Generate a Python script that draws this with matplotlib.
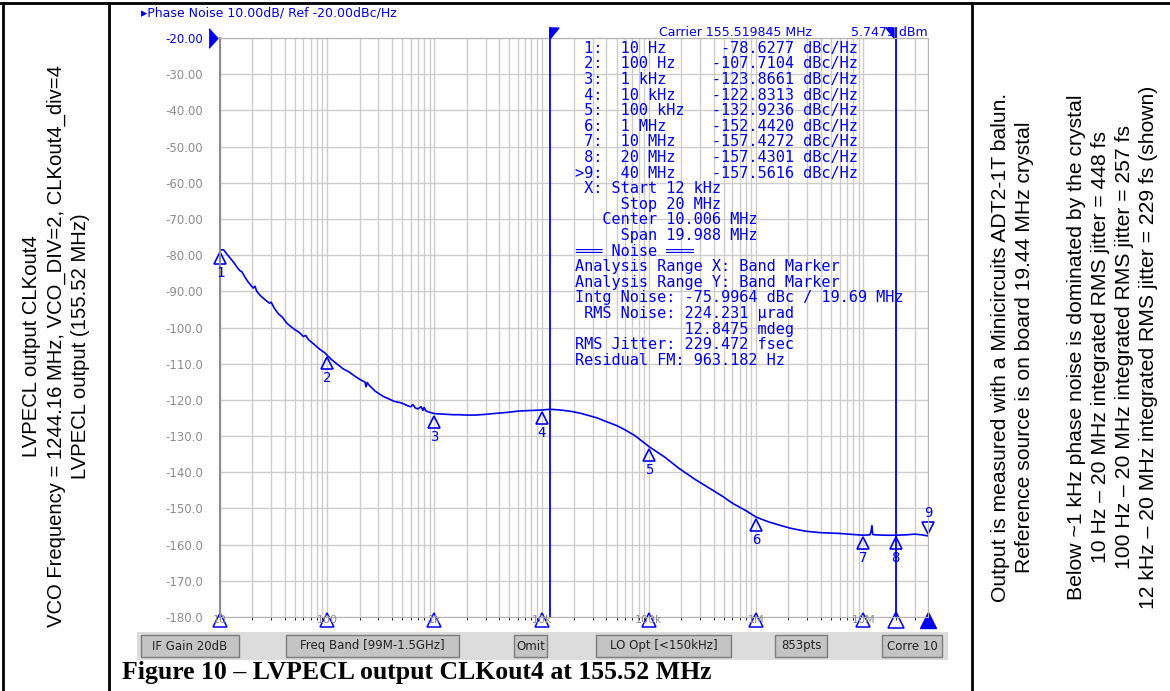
import matplotlib
matplotlib.use('Agg')
import numpy as np
import matplotlib.pyplot as plt
import matplotlib.transforms as mtransforms
from matplotlib.lines import Line2D
from matplotlib.patches import Rectangle, Polygon
from matplotlib.ticker import LogLocator, NullFormatter

# trace
freq_hz = [10, 10.8, 11.5, 12.5, 13.5, 14.3, 15.2, 16, 17, 18.5, 20.4, 21.2, 22, 24, 26.5, 29,
           30, 32, 35, 38, 42, 46, 50, 55, 60, 63, 67, 75, 85, 95, 100, 110, 120, 130, 140,
           160, 180, 200, 225, 230, 236, 245, 280, 331, 380, 420, 470, 507, 560, 600, 630,
           660, 700, 750, 780, 800, 830, 870, 920, 1000, 1150, 1300, 1500, 1700, 2000, 2400,
           3000, 3500, 4200, 5000, 6000, 7000, 8500, 10000, 12000, 15000, 19000, 23000,
           28000, 33000, 40000, 50000, 60000, 75000, 100000, 140000, 190000, 270000, 390000,
           500000, 596000, 800000, 1e6, 1.3e6, 1.6e6, 2.1e6, 2.9e6, 4e6, 5.9e6, 8e6, 1e7,
           1.15e7, 1.18e7, 1.2e7, 1.22e7, 1.3e7, 1.6e7, 2e7, 2.5e7, 3e7, 3.5e7, 4e7]
phase_noise = [-78.6, -78.5, -79.6, -80.9, -82.1, -83.2, -84.2, -84.6, -86.0, -87.6, -89.1,
               -88.6, -90.0, -91.3, -92.4, -93.3, -93.0, -94.6, -96.2, -97.1, -98.8, -99.8,
               -100.6, -101.4, -102.5, -102.2, -103.4, -104.6, -106.0, -107.0, -107.7, -108.9,
               -109.8, -110.6, -111.4, -112.3, -113.4, -114.3, -115.1, -116.4, -115.2, -115.9,
               -117.6, -119.0, -119.8, -120.4, -120.7, -121.0, -121.6, -121.9, -121.3, -122.2,
               -122.5, -121.9, -122.9, -122.1, -123.0, -123.3, -123.5, -123.8, -123.9, -124.0,
               -124.1, -124.1, -124.2, -124.2, -124.0, -123.8, -123.6, -123.4, -123.1, -123.0,
               -122.9, -122.8, -122.6, -122.8, -123.2, -123.7, -124.4, -125.0, -126.0, -127.1,
               -128.3, -130.0, -132.9, -135.8, -138.9, -142.0, -144.9, -146.9, -148.5, -150.6,
               -152.4, -153.7, -154.5, -155.5, -156.3, -156.7, -156.9, -157.2, -157.4, -157.3,
               -156.2, -154.8, -157.2, -157.3, -157.4, -157.4, -157.3, -157.1, -157.3, -157.6]

# marker table
marker_ids = [' 1', ' 2', ' 3', ' 4', ' 5', ' 6', ' 7', ' 8', '>9']
marker_freq = [10, 100, 1e3, 1e4, 1e5, 1e6, 1e7, 2e7, 4e7]
marker_labels = ['10 Hz', '100 Hz', '1 kHz', '10 kHz', '100 kHz', '1 MHz', '10 MHz', '20 MHz', '40 MHz']
marker_dbc = [-78.6277, -107.7104, -123.8661, -122.8313, -132.9236, -152.4420, -157.4272,
              -157.4301, -157.5616]

info_lines = [' X: Start 12 kHz', '     Stop 20 MHz', '   Center 10.006 MHz', '     Span 19.988 MHz',
              '═══ Noise ═══', 'Analysis Range X: Band Marker', 'Analysis Range Y: Band Marker',
              'Intg Noise: -75.9964 dBc / 19.69 MHz', ' RMS Noise: 224.231 µrad',
              '            12.8475 mdeg', 'RMS Jitter: 229.472 fsec', 'Residual FM: 963.182 Hz']

decade_freq = [10, 100, 1e3, 1e4, 1e5, 1e6, 1e7]
decade_labels = ['10', '100', '1k', '10k', '100k', '1M', '10M']
band_start, band_stop = 12e3, 20e6

buttons = ['IF Gain 20dB', 'Freq Band [99M-1.5GHz]', 'Omit', 'LO Opt [<150kHz]', '853pts', 'Corre 10']
button_x = [(141, 239), (286, 459), (514, 547), (596, 731), (775, 827), (882, 942)]

left_notes = ['LVPECL output CLKout4',
              'VCO Frequency = 1244.16 MHz, VCO_DIV=2, CLKout4_div=4',
              'LVPECL output (155.52 MHz)']
right_notes = ['Output is measured with a Minicircuits ADT2-1T balun.',
               'Reference source is on board 19.44 MHz crystal',
               'Below ~1 kHz phase noise is dominated by the crystal',
               '10 Hz – 20 MHz integrated RMS jitter = 448 fs',
               '100 Hz – 20 MHz integrated RMS jitter = 257 fs',
               '12 kHz – 20 MHz integrated RMS jitter = 229 fs (shown)']

W, H = 1170, 691
BLUE = '#0000ee'
GRAY = '#8c8c8c'

fig = plt.figure(figsize=(W / 100, H / 100), dpi=100)


def fx(x):
    return x / W


def fy(y):
    return 1 - y / H


ax = fig.add_axes([fx(220), fy(617), (928 - 220) / W, (617 - 38) / H])
ax.set_xscale('log')
ax.set_xlim(10, 4e7)
ax.set_ylim(-180, -20)

ax.xaxis.set_major_locator(LogLocator(base=10, numticks=20))
ax.xaxis.set_minor_locator(LogLocator(base=10, subs=range(2, 10), numticks=100))
ax.xaxis.set_major_formatter(NullFormatter())
ax.xaxis.set_minor_formatter(NullFormatter())
ax.grid(which='major', color='#cccccc', lw=1.0)
ax.grid(which='minor', axis='x', color='#cccccc', lw=1.0)
ax.set_axisbelow(True)

yt = np.arange(-180, -19, 10)
ax.set_yticks(yt)
ax.set_yticklabels([f'{v:.2f}' if v > -100 else f'{v:.1f}' for v in yt],
                   fontsize=8.5, color=GRAY)
ax.get_yticklabels()[-1].set_color(BLUE)
ax.tick_params(length=0, pad=12)
for side in ['top', 'right', 'bottom']:
    ax.spines[side].set_color('#b4b4b4')
ax.spines['left'].set_color('#8c8c8c')
ax.spines['left'].set_linewidth(1.5)

# ref level arrow
bt = mtransforms.blended_transform_factory(ax.transAxes, ax.transData)
ax.plot([-0.0105], [-20], marker=[(-0.45, 1), (0.45, 0), (-0.45, -1)], ms=14,
        color=BLUE, transform=bt, clip_on=False)

# trace
ax.plot(freq_hz, phase_noise, color=BLUE, lw=1.2)

# band marker lines
for f in [band_start, band_stop]:
    ax.axvline(f, ymin=0, ymax=1 + 10 / 579, color=BLUE, lw=1.3, clip_on=False)
fig.add_artist(Polygon([[fx(550), fy(28)], [fx(559), fy(28)], [fx(550), fy(39)]],
                       closed=True, color=BLUE, transform=fig.transFigure))
fig.add_artist(Polygon([[fx(894), fy(28)], [fx(886), fy(28)], [fx(894), fy(38)]],
                       closed=True, color=BLUE, transform=fig.transFigure))

# numbered markers on the trace
for i, (f, v) in enumerate(zip(marker_freq, marker_dbc)):
    up = i == len(marker_freq) - 1
    sgn = 1 if up else -1
    tm = mtransforms.offset_copy(ax.transData, fig=fig, x=0, y=sgn * 8, units='dots')
    tl = mtransforms.offset_copy(ax.transData, fig=fig, x=0, y=sgn * 23, units='dots')
    ax.plot([f], [v], marker='v' if up else '^', ms=9, mfc='none', mec=BLUE, mew=1.2,
            transform=tm, clip_on=False)
    ax.text(f, v, str(i + 1), transform=tl, ha='center', va='center', color=BLUE,
            fontsize=10, family='DejaVu Sans Mono')

# frequency labels and bottom triangles
tb = mtransforms.offset_copy(ax.transData, fig=fig, x=0, y=-3, units='dots')
for f, lab in zip(decade_freq, decade_labels):
    ax.text(f, -180, lab, transform=tb, ha='center', va='center', color=GRAY, fontsize=8)
    ax.plot([f], [-180], marker='^', ms=10, mfc='none', mec=BLUE, mew=1.1,
            transform=tb, clip_on=False)
ax.plot([band_stop], [-180], marker='^', ms=12, mfc='none', mec=BLUE, mew=1.1,
        transform=tb, clip_on=False)
ax.plot([4e7], [-180], marker='^', ms=12, color=BLUE, transform=tb, clip_on=False)

# header texts
fig.text(fx(141), fy(13), '▸Phase Noise 10.00dB/ Ref -20.00dBc/Hz', color=BLUE,
         fontsize=9, va='center', ha='left')
fig.text(fx(659), fy(32), 'Carrier 155.519845 MHz', color=BLUE, fontsize=9, va='center', ha='left')
fig.text(fx(928), fy(32), '5.7475 dBm', color=BLUE, fontsize=9, va='center', ha='right')

# marker table and noise analysis
rows = [f'{m}:  {lab:<10}{v:>9.4f} dBc/Hz' for m, lab, v in zip(marker_ids, marker_labels, marker_dbc)]
rows += info_lines
for k, line in enumerate(rows):
    fig.text(fx(575), fy(48.3 + k * 15.6), line, color=BLUE, fontsize=11,
             family='DejaVu Sans Mono', va='center', ha='left')

# softkey bar
fig.add_artist(Rectangle((fx(137), fy(660)), fx(948 - 137), 28 / H, transform=fig.transFigure,
                         fc='#dcdcdc', ec='none'))
for lab, (x0, x1) in zip(buttons, button_x):
    fig.add_artist(Rectangle((fx(x0), fy(657)), fx(x1 - x0), 22 / H, transform=fig.transFigure,
                             fc='#c4c4c4', ec='#7c7c7c', lw=1))
    fig.text(fx((x0 + x1) / 2), fy(646), lab, fontsize=8.5, ha='center', va='center', color='#222222')

# caption
fig.text(fx(122), fy(673), 'Figure 10 – LVPECL output CLKout4 at 155.52 MHz',
         family='Liberation Serif', fontweight='bold', fontsize=18.5, ha='left', va='center')

# surrounding table frame
for xs, ys in [([0, W], [3, 3]), ([3, 3], [3, H]), ([109, 109], [3, H]), ([972, 972], [3, H])]:
    fig.add_artist(Line2D([fx(x) for x in xs], [fy(y) for y in ys], color='black', lw=2,
                          transform=fig.transFigure))

for x, t in zip([32, 56, 80], left_notes):
    fig.text(fx(x), fy(346), t, rotation=90, ha='center', va='center',
             family='Liberation Sans', fontsize=14.6)
for x, t in zip([1000, 1024, 1076, 1100, 1124, 1148], right_notes):
    fig.text(fx(x), fy(347), t, rotation=90, ha='center', va='center',
             family='Liberation Sans', fontsize=15.2)

fig.savefig('out.png', dpi=100)
